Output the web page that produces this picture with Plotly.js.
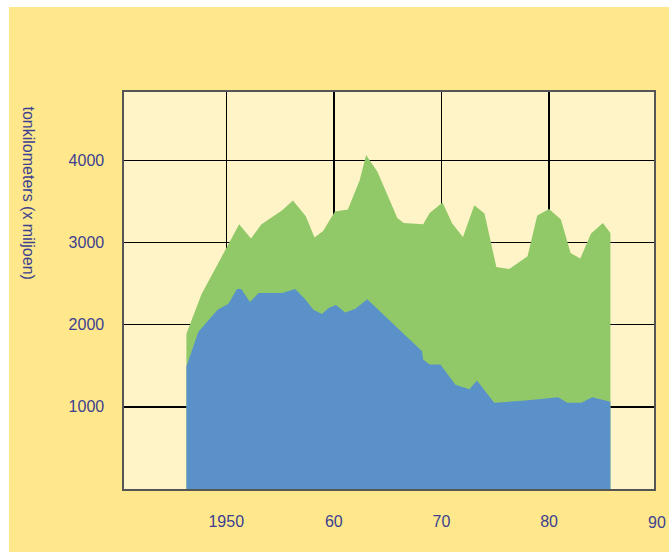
<!DOCTYPE html>
<html>
<head>
<meta charset="utf-8">
<script src="https://cdn.plot.ly/plotly-3.0.1.min.js"></script>
<style>
  html, body { margin: 0; padding: 0; background: #ffffff; width: 669px; height: 552px; overflow: hidden; }
  #chart { position: absolute; left: 9px; top: 7px; width: 660px; height: 545px; }
</style>
</head>
<body>
<div id="chart"></div>
<script>
// Top outline (total, green area)
const greenYears = [1946.3, 1947.7, 1951.2, 1952.3, 1953.25, 1955.2, 1956.2, 1957.4, 1958.2, 1959.0,
  1960.1, 1961.3, 1962.4, 1963.0, 1964.05, 1965.9, 1966.5, 1968.3, 1968.9, 1970.1,
  1971.0, 1972.0, 1973.05, 1974.0, 1975.1, 1976.3, 1978.0, 1978.9, 1980.0, 1981.1,
  1982.0, 1982.9, 1983.9, 1985.0, 1985.7];
const greenValues = [1890, 2370, 3223, 3049, 3220, 3394, 3512, 3320, 3061, 3141,
  3378, 3402, 3760, 4065, 3861, 3300, 3239, 3223, 3361, 3488,
  3232, 3068, 3455, 3354, 2702, 2678, 2833, 3329, 3410, 3280,
  2873, 2805, 3110, 3239, 3117];

// Lower part (blue area)
const blueYears = [1946.3, 1947.4, 1949.2, 1950.2, 1951.0, 1951.4, 1952.2, 1953.0, 1955.2, 1956.4,
  1957.3, 1958.1, 1958.9, 1959.5, 1960.2, 1961.05, 1962.0, 1963.1, 1968.2, 1968.3,
  1968.9, 1969.9, 1971.3, 1972.6, 1973.3, 1974.9, 1977.8, 1979.9, 1980.85, 1981.7,
  1983.0, 1984.0, 1985.7];
const blueValues = [1491, 1910, 2183, 2256, 2434, 2434, 2276, 2385, 2385, 2434,
  2317, 2183, 2129, 2202, 2239, 2150, 2195, 2309, 1678, 1577,
  1516, 1516, 1268, 1215, 1321, 1049, 1077, 1110, 1117, 1049,
  1049, 1117, 1061];

const xRange = [1940.5, 1989.75];
const xTickVals = [1950, 1960, 1970, 1980];
const xTickText = ['1950', '60', '70', '80'];
const xEdgeTick = 1990;
const xEdgeText = '90';
const yTickVals = [1000, 2000, 3000, 4000];
const yTickText = ['1000', '2000', '3000', '4000'];
const yTitle = 'tonkilometers (x miljoen)';

const textColor = '#3d4090';
const font = { family: 'Liberation Sans, Arial, Helvetica, sans-serif', size: 16, color: textColor };

const traces = [
  {
    x: greenYears, y: greenValues, type: 'scatter', mode: 'lines',
    line: { width: 0, color: '#91c969' }, fill: 'tozeroy', fillcolor: '#91c969',
    hoverinfo: 'skip', showlegend: false
  },
  {
    x: blueYears, y: blueValues, type: 'scatter', mode: 'lines',
    line: { width: 0, color: '#5b91c9' }, fill: 'tozeroy', fillcolor: '#5b91c9',
    hoverinfo: 'skip', showlegend: false
  }
];

const layout = {
  width: 660, height: 545,
  margin: { l: 115, r: 15, t: 85, b: 63 },
  paper_bgcolor: '#ffe88c',
  plot_bgcolor: '#fff4c8',
  font: font,
  showlegend: false,
  xaxis: {
    range: xRange,
    tickvals: xTickVals, ticktext: xTickText,
    showgrid: true, gridcolor: '#000000', gridwidth: 1.3,
    zeroline: false,
    showline: true, mirror: true, linecolor: '#555555', linewidth: 1.6,
    ticks: '', ticklabelstandoff: 17,
    tickfont: font, fixedrange: true
  },
  yaxis: {
    range: [0, 4833],
    tickvals: yTickVals, ticktext: yTickText,
    showgrid: true, gridcolor: '#000000', gridwidth: 1.3,
    zeroline: false,
    showline: true, mirror: true, linecolor: '#555555', linewidth: 1.6,
    ticks: '', ticklabelstandoff: 15,
    tickfont: font, fixedrange: true
  },
  annotations: [
    {
      text: yTitle, xref: 'paper', yref: 'paper',
      x: 0, xshift: -95.5, y: 0.7456, xanchor: 'center', yanchor: 'middle',
      textangle: 90, showarrow: false, font: font
    },
    {
      text: xEdgeText, xref: 'paper', yref: 'paper',
      x: (xEdgeTick - xRange[0]) / (xRange[1] - xRange[0]), y: 0, yshift: -33,
      xanchor: 'center', yanchor: 'middle',
      showarrow: false, font: font
    }
  ]
};

Plotly.newPlot('chart', traces, layout, { staticPlot: true, displayModeBar: false });
</script>
</body>
</html>
